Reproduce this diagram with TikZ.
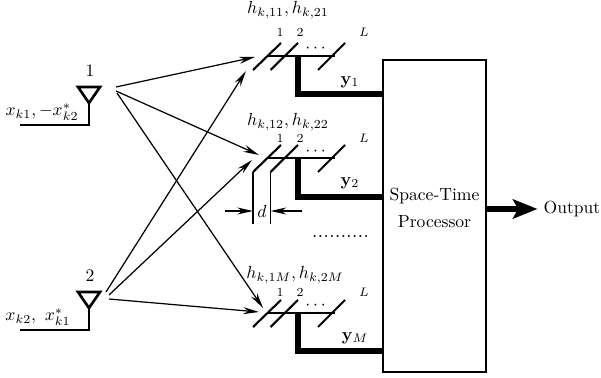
\documentclass[tikz,border=0pt]{standalone}
\usepackage{amsmath,amssymb}
\usetikzlibrary{arrows.meta}
\tikzset{
  antline/.style={line width=1.5pt,line join=miter},
  element/.style={line width=1.2pt},
  thin bus/.style={line width=1.1pt},
  thick bus/.style={line width=3pt,line join=miter},
  ray/.style={->,line width=0.7pt},
  small/.style={font=\scriptsize,inner sep=0pt},
}
\begin{document}
\begin{tikzpicture}[x=0.02cm,y=-0.02cm,>={Stealth[length=9pt,width=4pt]}]
\useasboundingbox (0,0) rectangle (601,378);
% antennas
\foreach \n/\top/\low in {1/87/125,2/292/330} {
  \coordinate (antL\n) at (78,\top);
  \coordinate (antR\n) at (100,\top);
  \coordinate (antB\n) at (89,\top+16);
  \coordinate (feedB\n) at (89,\low);
  \coordinate (feedE\n) at (20,\low);
  \draw[antline] (antL\n)--(antR\n)--(antB\n)--cycle;
  \draw[antline] (antB\n)--(feedB\n)--(feedE\n);
  \node (antname\n) at (90,\top-16) {\n};
}
\node (inA) at (42,112) {$x_{k1},-x^*_{k2}$};
\node (inB) at (38,317) {$x_{k2},\ x^*_{k1}$};
% processor
\node[draw,line width=1.5pt,minimum width=2.06cm,minimum height=6.24cm,inner sep=0pt] (proc) at (434.5,216) {};
\node[align=center] (proctext) at (434.5,208) {Space-Time\\[3.5pt]Processor};
\node (out) at (572,209) {Output};
\draw[line width=3pt,-{Stealth[length=14pt,width=11pt,inset=3pt]}] (proc.east|-out)--(out.west);
% receive arrays
\foreach \n/\y/\ylow/\ny/\dy/\lab/\lx/\ly/\hx/\hy/\htxt in {
  1/56/94/32/49/{\mathbf{y}_1}/350/82/288/10/{h_{k,11},h_{k,21}},
  2/158/197/138/152/{\mathbf{y}_2}/350/183/288/122/{h_{k,12},h_{k,22}},
  3/313/351/292/306/{\mathbf{y}_M}/355/338/295/275/{h_{k,1M},h_{k,2M}}} {
  \coordinate (elA\n) at (253,\y+14);
  \coordinate (elAt\n) at (281,\y-13);
  \coordinate (elB\n) at (270.5,\y+14);
  \coordinate (elBt\n) at (298,\y-13);
  \coordinate (elL\n) at (318,\y+14);
  \coordinate (elLt\n) at (345,\y-13);
  \coordinate (busW\n) at (267,\y);
  \coordinate (busE\n) at (335,\y);
  \coordinate (drop\n) at (298,\y);
  \coordinate (corner\n) at (298,\ylow);
  \coordinate (entry\n) at (383,\ylow);
  \draw[element] (elA\n)--(elAt\n);
  \draw[element] (elB\n)--(elBt\n);
  \draw[element] (elL\n)--(elLt\n);
  \draw[thin bus] (busW\n)--(busE\n);
  \draw[thick bus] (drop\n)--(corner\n)--(entry\n);
  \node (lab\n) at (\lx,\ly) {$\lab$};
  \node (chan\n) at (\hx,\hy) {$\htxt$};
  \node[small] (one\n) at (280,\ny) {1};
  \node[small] (two\n) at (300,\ny) {2};
  \node[small] (ell\n) at (364,\ny) {$L$};
  \node[inner sep=0pt] (dots\n) at (317,\dy) {$\cdots$};
}
\node[inner sep=0pt,font=\large] (moredots) at (340.5,236) {..........};
% spacing d
\coordinate (dL) at (253,224);
\coordinate (dR) at (270.5,224);
\draw[line width=0.7pt] (elA2)--(dL);
\draw[line width=0.7pt] (elB2)--(dR);
\node[inner sep=0pt] (dlab) at (262,211) {$d$};
\coordinate (dLa) at (225,211);
\coordinate (dLb) at (253,211);
\coordinate (dRa) at (302,211);
\coordinate (dRb) at (270.5,211);
\draw[ray] (dLa)--(dLb);
\draw[ray] (dRa)--(dRb);
% signal paths
\coordinate (tx1a) at (116,87);
\coordinate (tx1b) at (116,91);
\coordinate (tx1c) at (117,93);
\coordinate (tx2a) at (106,292);
\coordinate (tx2b) at (109,295);
\coordinate (tx2c) at (109,299);
\coordinate (rx1a) at (255,57);
\coordinate (rx1b) at (246,71);
\coordinate (rx2a) at (259,155);
\coordinate (rx2b) at (252,160);
\coordinate (rx3a) at (263,308);
\coordinate (rx3b) at (259,312);
\draw[ray] (tx1a)--(rx1a);
\draw[ray] (tx1b)--(rx2a);
\draw[ray] (tx1c)--(rx3a);
\draw[ray] (tx2a)--(rx1b);
\draw[ray] (tx2b)--(rx2b);
\draw[ray] (tx2c)--(rx3b);
\end{tikzpicture}
\end{document}
